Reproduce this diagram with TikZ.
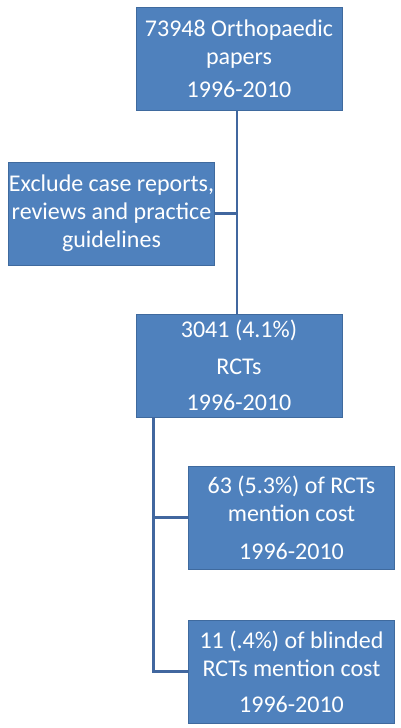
\documentclass[tikz,border=0pt]{standalone}
\usepackage{fontspec}
\setmainfont{Carlito}
\usepackage{tikz}
\usetikzlibrary{arrows.meta,positioning,calc}
\usepackage{xcolor}
\definecolor{boxfill}{HTML}{4F81BD}
\definecolor{boxline}{HTML}{3F6A9E}
\definecolor{linkcol}{HTML}{41679F}

\begin{document}
\begin{tikzpicture}[x=1pt, y=-1pt,
  stage/.style={rectangle, draw=boxline, line width=0.8pt, fill=boxfill,
                minimum width=206pt, minimum height=103pt, inner sep=0pt,
                text=white, align=center, font=\fontsize{24}{28}\selectfont},
  link/.style={draw=linkcol, line width=2.6pt},
]
  \useasboundingbox (0,0) rectangle (400,728);

  \node[stage] (papers) at (239,59) {73948 Orthopaedic\\papers\\[5pt]1996-2010};
  \node[stage] (excl) at (111.5,213.5) {Exclude case reports,\\reviews and practice\\guidelines};
  \node[stage] (rcts) at (239,365.5) {3041 (4.1\%)\\[9pt]RCTs\\[8pt]1996-2010};
  \node[stage] (cost) at (291.5,517.5) {63 (5.3\%) of RCTs\\mention cost\\[10pt]1996-2010};
  \node[stage] (blind) at (291.5,671.5) {11 (.4\%) of blinded\\RCTs mention cost\\[8pt]1996-2010};

  \coordinate (spine) at ([xshift=-2pt]papers.south);
  \coordinate (trunk) at ([xshift=18pt]rcts.south west);

  \draw[link] (spine) -- (spine |- rcts.north);
  \draw[link] (excl.east) -- (excl.east -| spine);
  \draw[link] (trunk) |- (cost.west);
  \draw[link] (trunk) |- (blind.west);
\end{tikzpicture}
\end{document}
